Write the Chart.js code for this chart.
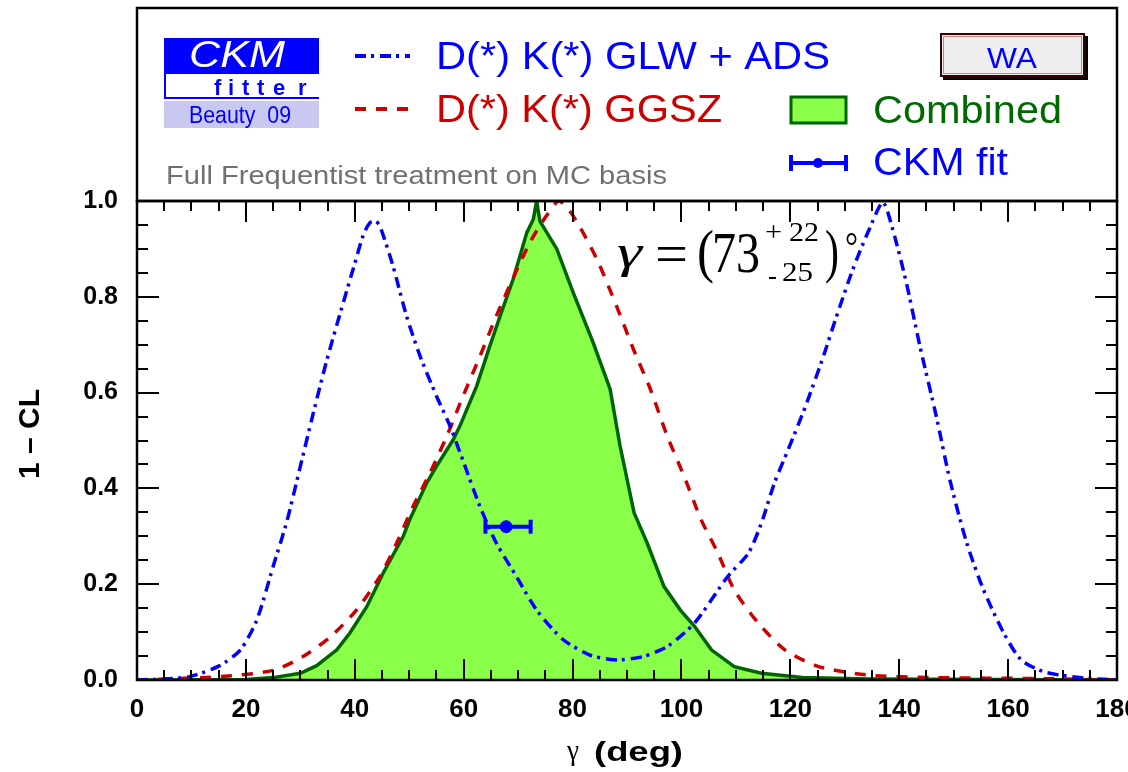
<!DOCTYPE html>
<html><head><meta charset="utf-8">
<script src="https://cdn.jsdelivr.net/npm/chart.js@4.4.1/dist/chart.umd.min.js"></script>
<style>html,body{margin:0;padding:0;background:#fff}#wrap{width:1128px;height:772px;position:relative}</style>
</head><body><div id="wrap"><canvas id="c"></canvas></div>
<script>
// ---- data (gamma in degrees, 1-CL) ----
const glwX = [0, 5, 9.7, 15.2, 19, 22, 25, 27.5, 30, 32.4, 34.8, 37.3, 39.7, 41.6, 42.8, 43.8, 44.6, 47, 49.5, 52, 55, 57.5, 60, 63, 66, 69.7, 73.4, 78.3, 83.2, 86.9, 89, 93, 97.4, 102.4, 108.5, 112.3, 114.7, 117.1, 119.6, 122.8, 125.9, 128.3, 131.5, 134.5, 137, 138.8, 141.3, 143.8, 146.8, 149.3, 152.4, 155.5, 159.2, 162.4, 166.6, 171.6, 175.3, 180];
const glwY = [0, 0.002, 0.007, 0.03, 0.063, 0.125, 0.237, 0.33, 0.446, 0.558, 0.665, 0.765, 0.858, 0.93, 0.955, 0.958, 0.948, 0.865, 0.76, 0.676, 0.593, 0.53, 0.454, 0.362, 0.286, 0.216, 0.146, 0.084, 0.052, 0.043, 0.042, 0.049, 0.07, 0.119, 0.216, 0.265, 0.328, 0.412, 0.481, 0.572, 0.67, 0.753, 0.858, 0.941, 0.997, 0.941, 0.83, 0.697, 0.551, 0.418, 0.286, 0.188, 0.098, 0.042, 0.017, 0.007, 0.003, 0];

const ggszX = [0, 15.2, 25, 30.5, 35.5, 40.3, 44.6, 47.7, 50.7, 53.8, 56.9, 59.9, 63, 66, 69, 72.2, 75.2, 77.5, 80.1, 84.4, 88.1, 91.2, 94.3, 97.4, 100.5, 103.6, 106.7, 109.7, 114.1, 119, 125.2, 134.5, 146.8, 165, 180];
const ggszY = [0, 0.007, 0.02, 0.049, 0.09, 0.146, 0.216, 0.286, 0.362, 0.432, 0.509, 0.593, 0.676, 0.76, 0.837, 0.914, 0.969, 1.0, 0.969, 0.88, 0.78, 0.69, 0.607, 0.509, 0.425, 0.335, 0.265, 0.188, 0.119, 0.063, 0.028, 0.01, 0.005, 0.003, 0];

const combX = [0, 20, 25, 30, 33, 36.7, 39.1, 42.2, 45.2, 48.9, 50.1, 53.2, 55, 58.1, 59.3, 62.4, 64.8, 66.7, 69.1, 71.6, 72.8, 73.4, 74, 77.1, 80.1, 83.8, 86.9, 88.7, 91.3, 93.7, 96.8, 99.8, 102.4, 105.5, 109.7, 114.7, 122.2, 134.5, 180];
const combY = [0, 0.001, 0.005, 0.014, 0.03, 0.063, 0.098, 0.153, 0.223, 0.3, 0.335, 0.411, 0.446, 0.502, 0.53, 0.614, 0.697, 0.76, 0.837, 0.934, 0.962, 1.0, 0.958, 0.9, 0.809, 0.704, 0.607, 0.49, 0.349, 0.286, 0.195, 0.146, 0.112, 0.063, 0.028, 0.014, 0.005, 0.002, 0];

const ckmFit = [67.8];
const ckmLow = [64.0];
const ckmHigh = [72.3];
const ckmLevel = [0.32];

const xTickValues = [0, 20, 40, 60, 80, 100, 120, 140, 160, 180];
const yTickValues = [0.0, 0.2, 0.4, 0.6, 0.8, 1.0];

const seriesNames = ['D(*) K(*) GLW + ADS', 'D(*) K(*) GGSZ', 'Combined', 'CKM fit'];

// ---- helpers ----
const pts = (xs, ys) => xs.map((x, i) => ({x: x, y: ys[i]}));
const SANS = "'Liberation Sans', Arial, Helvetica, sans-serif";
const SERIF = "'Liberation Serif', 'Times New Roman', serif";
const BLUE = '#0000ff', RED = '#cc0000', DGREEN = '#006400', LGREEN = '#8aff4a';
const DASHDOT = [11, 5, 3, 6], DASH = [11, 10];

// draw text at left x / baseline y, scaled horizontally to the given width (and sy vertically)
function fitText(c, txt, x, y, font, width, sy) {
  c.save();
  c.font = font; c.textAlign = 'left'; c.textBaseline = 'alphabetic';
  const m = c.measureText(txt).width;
  c.translate(x, y); c.scale(width ? width / m : 1, sy || 1);
  c.fillText(txt, 0, 0);
  c.restore();
}

const decor = {
  id: 'decor',
  beforeDraw(chart) {
    const c = chart.ctx;
    c.save(); c.fillStyle = '#fff'; c.fillRect(0, 0, chart.width, chart.height); c.restore();
  },
  afterDraw(chart) {
    const c = chart.ctx;
    const xs = chart.scales.x, ys = chart.scales.y;
    const a = chart.chartArea;
    c.save();
    // ticks (inward, all four sides)
    c.strokeStyle = '#000'; c.lineWidth = 2;
    c.beginPath();
    for (let v = 0; v <= 180; v += 5) {
      const px = Math.round(xs.getPixelForValue(v));
      const L = (v % 20 === 0) ? 21 : 10;
      c.moveTo(px, a.bottom); c.lineTo(px, a.bottom - L);
      c.moveTo(px, a.top); c.lineTo(px, a.top + L);
    }
    for (let k = 0; k <= 20; k++) {
      const py = Math.round(ys.getPixelForValue(k * 0.05));
      const L = (k % 4 === 0) ? 22 : 11;
      c.moveTo(a.left, py); c.lineTo(a.left + L, py);
      c.moveTo(a.right, py); c.lineTo(a.right - L, py);
    }
    c.stroke();
    // plot frame and top legend box
    c.lineWidth = 2.5;
    c.strokeRect(a.left, a.top, a.right - a.left, a.bottom - a.top);
    c.strokeRect(a.left, 8, a.right - a.left, a.top - 8);

    // CKMfitter logo
    c.fillStyle = '#0000ff'; c.fillRect(164, 38, 155, 36);
    c.fillStyle = '#fff'; c.fillRect(164, 74, 155, 25);
    c.strokeStyle = '#0000ff'; c.lineWidth = 2;
    c.beginPath(); c.moveTo(165, 74); c.lineTo(165, 98); c.lineTo(319, 98); c.stroke();
    c.fillStyle = '#c8c8f0'; c.fillRect(164, 101, 155, 27);
    c.fillStyle = '#fff';
    fitText(c, 'CKM', 189, 67, 'italic 37px ' + SANS, 96);
    c.fillStyle = '#0000ff';
    c.font = 'bold 22px ' + SANS; c.textAlign = 'left'; c.textBaseline = 'alphabetic';
    const fl = ['f', 'i', 't', 't', 'e', 'r'], fx = [214, 228, 242, 257, 273, 298];
    fl.forEach((ch, i) => c.fillText(ch, fx[i], 95));
    fitText(c, 'Beauty  09', 189, 123, '23px ' + SANS, 102);

    // legend entries
    c.lineWidth = 4;
    c.strokeStyle = BLUE; c.setLineDash(DASHDOT);
    c.beginPath(); c.moveTo(355, 56); c.lineTo(410, 56); c.stroke();
    c.strokeStyle = RED; c.setLineDash(DASH);
    c.beginPath(); c.moveTo(355, 109); c.lineTo(410, 109); c.stroke();
    c.setLineDash([]);
    c.fillStyle = BLUE; fitText(c, seriesNames[0], 436, 69, '38px ' + SANS, 394);
    c.fillStyle = RED; fitText(c, seriesNames[1], 436, 122, '38px ' + SANS, 286);
    // combined sample
    c.fillStyle = LGREEN; c.fillRect(791, 97, 55, 26);
    c.strokeStyle = DGREEN; c.lineWidth = 3; c.strokeRect(791, 97, 55, 26);
    c.fillStyle = '#006a00'; fitText(c, seriesNames[2], 873, 123, '39px ' + SANS, 189);
    // CKM fit sample
    c.strokeStyle = BLUE; c.fillStyle = BLUE; c.lineWidth = 4;
    c.beginPath(); c.moveTo(790, 163); c.lineTo(847, 163);
    c.moveTo(791, 155); c.lineTo(791, 171); c.moveTo(846, 155); c.lineTo(846, 171); c.stroke();
    c.beginPath(); c.arc(818, 163, 5, 0, Math.PI * 2); c.fill();
    fitText(c, seriesNames[3], 873, 175, '39px ' + SANS, 135);
    // WA box
    c.fillStyle = '#000'; c.fillRect(943, 36, 145, 44);
    c.fillStyle = '#eeeeee'; c.fillRect(940, 33, 145, 44);
    c.strokeStyle = '#3a0000'; c.lineWidth = 2; c.strokeRect(941, 34, 143, 42);
    c.strokeStyle = '#d08080'; c.lineWidth = 1; c.strokeRect(943.5, 36.5, 138, 37);
    c.fillStyle = BLUE; fitText(c, 'WA', 987, 68, '30px ' + SANS, 50);
    // subtitle
    c.fillStyle = '#707070'; fitText(c, 'Full Frequentist treatment on MC basis', 166, 184, '26px ' + SANS, 501);

    // gamma result annotation
    c.fillStyle = '#000';
    fitText(c, 'γ', 617, 267, 'italic 46px ' + SERIF, 25);
    fitText(c, '=', 655, 273, '56px ' + SERIF, 33);
    fitText(c, '(', 697, 271, '60px ' + SERIF, 17);
    fitText(c, '73', 712, 272, '48px ' + SERIF, 48, 1.2);
    fitText(c, '+', 765, 241, '27px ' + SERIF, 17);
    fitText(c, '22', 789, 241, '27px ' + SERIF, 30);
    fitText(c, '-', 768, 284, '27px ' + SERIF, 9);
    fitText(c, '25', 782, 281, '27px ' + SERIF, 31);
    fitText(c, ')', 825, 271, '60px ' + SERIF, 14);
    fitText(c, '°', 845, 260, '40px ' + SERIF, 13);

    // axis titles
    c.save(); c.translate(31, 434); c.rotate(-Math.PI / 2);
    c.font = 'bold 30px ' + SANS; c.textAlign = 'center'; c.textBaseline = 'middle';
    c.fillText('1 – CL', 0, 0); c.restore();
    fitText(c, 'γ', 567, 760, '30px ' + SERIF, 12);
    fitText(c, '(deg)', 594, 761, 'bold 27px ' + SANS, 89);
    c.restore();
  }
};

new Chart(document.getElementById('c'), {
  type: 'line',
  data: {
    datasets: [
      { label: 'CKM fit', data: pts(ckmFit, ckmLevel), showLine: false, pointRadius: 6, pointBackgroundColor: BLUE, pointBorderColor: BLUE, order: 0 },
      { label: 'CKM fit range', data: [{x: ckmLow[0], y: ckmLevel[0]}, {x: ckmHigh[0], y: ckmLevel[0]}], borderColor: BLUE, borderWidth: 4,
        pointStyle: 'line', pointRotation: 90, pointRadius: 7, pointBorderWidth: 4, pointBorderColor: BLUE, order: 0 },
      { label: seriesNames[0], data: pts(glwX, glwY), borderColor: BLUE, borderWidth: 3.5, borderDash: DASHDOT, pointRadius: 0, tension: 0.25, order: 1 },
      { label: seriesNames[1], data: pts(ggszX, ggszY), borderColor: RED, borderWidth: 3.5, borderDash: DASH, pointRadius: 0, tension: 0.25, order: 2 },
      { label: seriesNames[2], data: pts(combX, combY), borderColor: DGREEN, backgroundColor: LGREEN, borderWidth: 3.5, fill: 'origin', pointRadius: 0, tension: 0, order: 3 }
    ]
  },
  options: {
    responsive: true, maintainAspectRatio: false, animation: false,
    layout: { padding: { top: 201, right: 11, left: 0, bottom: 0 } },
    plugins: { legend: { display: false }, tooltip: { enabled: false } },
    scales: {
      x: {
        type: 'linear', min: 0, max: 180,
        afterFit(s) { s.height = 92; s.paddingLeft = 0; s.paddingRight = 0; },
        afterBuildTicks(s) { s.ticks = xTickValues.map(v => ({value: v})); },
        grid: { display: false, drawTicks: false }, border: { display: false },
        ticks: { padding: 14, color: '#000', font: { family: SANS, size: 26, weight: 'bold' }, maxRotation: 0, autoSkip: false, callback: v => String(v) }
      },
      y: {
        type: 'linear', min: 0, max: 1,
        afterFit(s) { s.width = 137; s.paddingTop = 0; s.paddingBottom = 0; },
        afterBuildTicks(s) { s.ticks = yTickValues.map(v => ({value: v})); },
        grid: { display: false, drawTicks: false }, border: { display: false },
        ticks: { padding: 19, color: '#000', font: { family: SANS, size: 25, weight: 'bold' }, autoSkip: false, callback: v => Number(v).toFixed(1) }
      }
    }
  },
  plugins: [decor]
});
</script>
</body></html>
